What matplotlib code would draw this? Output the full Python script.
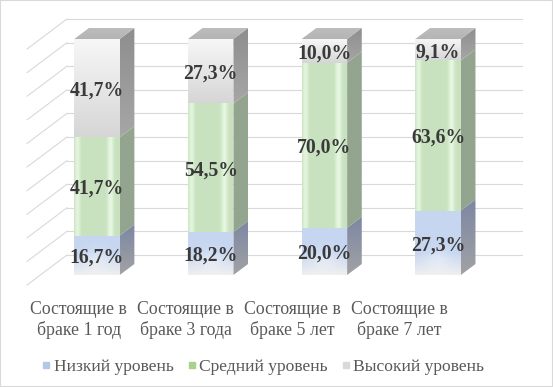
import numpy as np
import matplotlib
matplotlib.use("Agg")
import matplotlib.pyplot as plt
from matplotlib.patches import Polygon, Rectangle
from matplotlib.lines import Line2D
from matplotlib.colors import to_rgb

categories = ["Состоящие в\nбраке 1 год", "Состоящие в\nбраке 3 года",
              "Состоящие в\nбраке 5 лет", "Состоящие в\nбраке 7 лет"]
low = [16.7, 18.2, 20.0, 27.3]
mid = [41.7, 54.5, 70.0, 63.6]
high = [41.7, 27.3, 10.0, 9.1]
series_names = ["Низкий уровень", "Средний уровень", "Высокий уровень"]

plt.rcParams["font.family"] = ["Liberation Serif", "DejaVu Serif"]

# pseudo-3d geometry (px per data unit, depth is in px "up")
PX, PY = 113.7, 2.36
HW = 0.2
BAR_D = 11
WALL_D = 20
FRONT_D = -10
WALL_X = -0.498
WALL_XR = 3.738


def depth(d):
    return 1.33 * d / PX, d / PY


fig = plt.figure(figsize=(5.53, 3.87), dpi=100)
ax = fig.add_axes([0, 0, 1, 1])
ax.axis("off")
xlim = (-97 / PX, (553 - 97) / PX)
ylim = ((275 - 387) / PY, 275 / PY)

# walls
wdx, wdy = depth(WALL_D)
fdx, fdy = depth(FRONT_D)
for g in range(0, 101, 10):
    ax.plot([WALL_X + wdx, WALL_XR], [g + wdy, g + wdy], color="#d9d9d9", lw=0.8, zorder=1)
    ax.plot([WALL_X + fdx, WALL_X + wdx], [g + fdy, g + wdy], color="#d9d9d9", lw=0.8, zorder=1)


def put_img(img, verts, z):
    poly = Polygon(verts, closed=True, facecolor="none", edgecolor="none")
    ax.add_patch(poly)
    xs = [v[0] for v in verts]
    ys = [v[1] for v in verts]
    im = ax.imshow(img, extent=(min(xs), max(xs), min(ys), max(ys)), origin="lower",
                   aspect="auto", interpolation="bilinear", zorder=z)
    im.set_clip_path(poly)


def vgrad(bot, top, n=64):
    t = np.linspace(0, 1, n)[:, None, None]
    b = np.array(to_rgb(bot))
    tp = np.array(to_rgb(top))
    return np.repeat(b + (tp - b) * t, 2, axis=1)


def front_img(kind, y0, y1, nr=80, nc=60):
    yy = np.linspace(y0, y1, nr)[:, None, None]
    tt = np.linspace(0, 1, nc)[None, :, None]
    if kind == 0:
        blue = np.array(to_rgb("#c6d6f0"))
        white = np.array(to_rgb("#efefef"))
        f = np.clip(yy / 9.0, 0, 1)
        glow = 0.35 * np.exp(-((tt - 0.5) / 0.3) ** 2) * np.exp(-((yy - 6) / 5.0) ** 2)
        img = white + (blue - white) * f
        img = img + (1 - img) * glow
    elif kind == 1:
        base = np.array(to_rgb("#c8e1be"))
        light = np.array(to_rgb("#ebfae6"))
        w = 0.8 * np.exp(-((tt - 0.07) / 0.06) ** 2) + 0.9 * np.exp(-((tt - 0.8) / 0.07) ** 2)
        img = base + (light - base) * w + 0 * yy
    else:
        top = np.array(to_rgb("#f7f7f7"))
        bot = np.array(to_rgb("#d6d6d6"))
        f = (yy - y0) / (y1 - y0)
        img = bot + (top - bot) * f + 0 * tt
    return np.clip(img, 0, 1)


side_cols = [("#a2a2a5", "#7c87a2"), ("#93a48f", "#93a48f"), ("#a6a6a6", "#8e8e8e")]
bdx, bdy = depth(BAR_D)

for i in range(len(categories)):
    vals = [low[i], mid[i], high[i]]
    total = sum(vals)
    bottom = 0.0
    for k, v in enumerate(vals):
        top = bottom + v * 100.0 / total
        x0, x1 = i - HW, i + HW
        front = [(x0, bottom), (x1, bottom), (x1, top), (x0, top)]
        put_img(front_img(k, bottom, top), front, 3)
        side = [(x1, bottom), (x1 + bdx, bottom + bdy), (x1 + bdx, top + bdy), (x1, top)]
        put_img(vgrad(side_cols[k][0], side_cols[k][1]), side, 3)
        lab = f"{v:.1f}".replace(".", ",") + "%"
        ax.text(i, (bottom + top) / 2 - 1, lab, ha="center", va="center", fontsize=14.2,
                fontweight="bold", color="#3a3a3a", zorder=5)
        bottom = top
    cap = [(i - HW, 100), (i + HW, 100), (i + HW + bdx, 100 + bdy), (i - HW + bdx, 100 + bdy)]
    put_img(vgrad("#b4b4b4", "#bdbdbd"), cap, 3)

# category labels (sit on the floor front edge, so a bit to the left)
for i, c in enumerate(categories):
    ax.text(-0.16 + i * 0.94, -19.0, c, ha="center", va="center", fontsize=12.8,
            color="#595959", linespacing=1.2, multialignment="center")

ax.set_xlim(*xlim)
ax.set_ylim(*ylim)

leg_cols = ["#b4c7e7", "#a9d18e", "#d9d9d9"]
handles = [Line2D([], [], marker="s", linestyle="none", markersize=5, color=c) for c in leg_cols]
fig.legend(handles, series_names, loc="center", bbox_to_anchor=(0.476, 0.052), ncol=3,
           frameon=False, fontsize=12.6, labelcolor="#595959", handlelength=0.5,
           handletextpad=0.2, columnspacing=0.75)

fig.patches.append(Rectangle((0, 0), 1, 1, transform=fig.transFigure, fill=False,
                             edgecolor="#d9d9d9", lw=1.5))

fig.savefig("out.png", dpi=100)
